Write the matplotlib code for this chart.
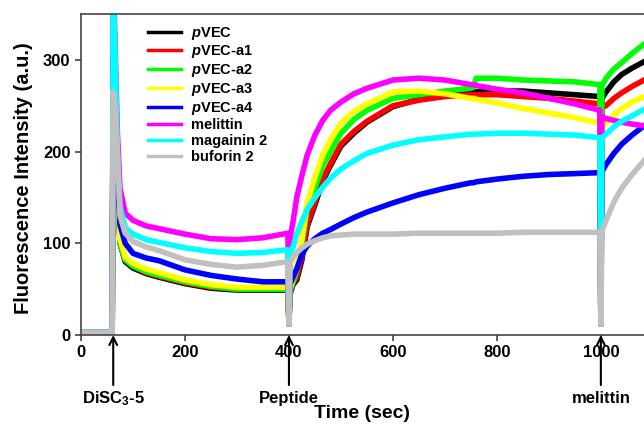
import matplotlib
matplotlib.use("Agg")
import matplotlib.pyplot as plt

plt.rcParams['font.family'] = ['Liberation Sans', 'DejaVu Sans']
plt.rcParams['font.weight'] = 'bold'
plt.rcParams['mathtext.fontset'] = 'custom'
plt.rcParams['mathtext.rm'] = 'Liberation Sans:bold'
plt.rcParams['mathtext.bf'] = 'Liberation Sans:bold'
plt.rcParams['mathtext.it'] = 'Liberation Sans:italic:bold'

# time grid (sec)
time = [0, 60, 62, 65, 70, 75, 85, 100, 125, 150, 200, 250, 300, 350, 398,
        400, 402, 408, 415, 425, 435, 450, 465, 480, 500, 525, 550, 600, 650,
        700, 750, 755, 760, 800, 850, 900, 950, 998,
        1000, 1002, 1010, 1025, 1040, 1060, 1083]

pvec = [3, 3, 300, 250, 170, 100, 80, 73, 67, 63, 56, 51, 49, 49, 49,
        12, 45, 55, 60, 82, 118, 142, 168, 185, 206, 220, 232, 249, 257,
        262, 265, 265, 265, 266, 266, 264, 262, 260,
        12, 258, 265, 276, 284, 291, 298]
pvec_a1 = [3, 3, 300, 250, 170, 100, 82, 75, 68, 64, 57, 52, 50, 50, 50,
           12, 47, 57, 63, 86, 120, 145, 170, 187, 208, 222, 233, 250, 256,
           260, 262, 262, 262, 262, 260, 258, 255, 252,
           12, 248, 250, 258, 264, 271, 278]
pvec_a2 = [3, 3, 300, 250, 170, 100, 82, 75, 69, 65, 58, 53, 50, 50, 50,
           12, 48, 58, 70, 100, 137, 160, 185, 200, 220, 235, 245, 258, 262,
           266, 269, 270, 280, 280, 278, 277, 276, 273,
           12, 272, 280, 290, 297, 307, 317]
pvec_a3 = [3, 3, 300, 250, 170, 105, 85, 78, 72, 68, 60, 55, 52, 52, 52,
           12, 50, 62, 74, 105, 144, 172, 196, 213, 231, 244, 252, 265, 266,
           263, 258, 258, 257, 253, 247, 242, 237, 231,
           12, 228, 231, 240, 247, 254, 260]
pvec_a4 = [3, 3, 300, 250, 175, 120, 100, 89, 84, 81, 71, 65, 61, 58, 58,
           12, 55, 63, 72, 88, 97, 105, 111, 115, 121, 128, 134, 144, 153,
           160, 166, 166, 167, 170, 173, 175, 176, 177,
           12, 178, 186, 198, 208, 218, 228]
melittin = [3, 3, 380, 330, 220, 160, 133, 125, 119, 116, 110, 105, 104, 106, 111,
            12, 105, 124, 150, 174, 196, 218, 234, 245, 254, 263, 269, 278, 280,
            278, 273, 273, 272, 268, 264, 258, 252, 245,
            12, 238, 236, 234, 232, 230, 228]
magainin2 = [3, 3, 370, 320, 200, 140, 117, 110, 104, 101, 95, 91, 89, 90, 93,
             12, 90, 96, 110, 124, 137, 150, 161, 171, 181, 190, 198, 207, 213,
             216, 219, 219, 219, 220, 220, 219, 218, 215,
             12, 215, 219, 227, 233, 239, 246]
buforin2 = [3, 3, 265, 250, 200, 130, 111, 102, 96, 92, 82, 77, 74, 76, 80,
            12, 78, 85, 90, 95, 99, 103, 106, 108, 109, 110, 110, 110, 111,
            111, 111, 111, 111, 111, 112, 112, 112, 112,
            12, 113, 125, 145, 160, 175, 190]

series = [pvec, pvec_a1, pvec_a2, pvec_a3, pvec_a4, melittin, magainin2, buforin2]
labels = [r'$\mathit{p}$VEC', r'$\mathit{p}$VEC-a1', r'$\mathit{p}$VEC-a2',
          r'$\mathit{p}$VEC-a3', r'$\mathit{p}$VEC-a4', 'melittin',
          'magainin 2', 'buforin 2']
colors = ['#000000', '#ff0000', '#00ff00', '#ffff00', '#0000ff', '#ff00ff',
          '#00ffff', '#c0c0c0']

events_t = [62, 400, 1000]
events_lbl = [r'DiSC$_{3}$-5', 'Peptide', 'melittin']

fig = plt.figure(figsize=(6.44, 4.25), dpi=100)
ax = fig.add_axes([81/644, 1-335/425, 1-81/644, (335-14)/425])

for y, c, l in zip(series, colors, labels):
    ax.plot(time, y, color=c, lw=4.0, label=l, solid_joinstyle='round')

ax.set_xlim(0, 1083)
ax.set_ylim(0, 350)
ax.set_xticks([0, 200, 400, 600, 800, 1000])
ax.set_yticks([0, 100, 200, 300])
for s in ['left', 'bottom', 'top']:
    ax.spines[s].set_color('#444444')
    ax.spines[s].set_linewidth(1.2)
ax.spines['right'].set_visible(False)
ax.tick_params(axis='both', labelsize=12, length=4, width=1.2, color='#444444')
for t in ax.get_xticklabels() + ax.get_yticklabels():
    t.set_fontweight('bold')

ax.set_xlabel('Time (sec)', fontsize=14, fontweight='bold')
ax.xaxis.set_label_coords(0.5, -0.218)
ax.set_ylabel('Fluorescence Intensity (a.u.)', fontsize=14.5, fontweight='bold')
ax.yaxis.set_label_coords(-0.085, 0.49)

for t, l in zip(events_t, events_lbl):
    ax.annotate('', xy=(t, 0), xycoords=('data', 'axes fraction'),
                xytext=(0, -36), textcoords='offset points',
                arrowprops=dict(arrowstyle='->', color='black', lw=1.5,
                                shrinkA=0, shrinkB=0, mutation_scale=14),
                annotation_clip=False)
    ax.annotate(l, xy=(t, 0), xycoords=('data', 'axes fraction'),
                xytext=(0, -46), textcoords='offset points', ha='center',
                va='center', fontsize=12, fontweight='bold',
                annotation_clip=False)

leg = ax.legend(loc='upper left', bbox_to_anchor=(0.108, 0.985), frameon=False,
                fontsize=10.5, handlelength=2.3, handletextpad=0.7,
                labelspacing=0.12, borderaxespad=0)
for h in leg.get_lines():
    h.set_linewidth(2.5)
for t in leg.get_texts():
    t.set_fontweight('bold')

fig.savefig('out.png', dpi=100)
